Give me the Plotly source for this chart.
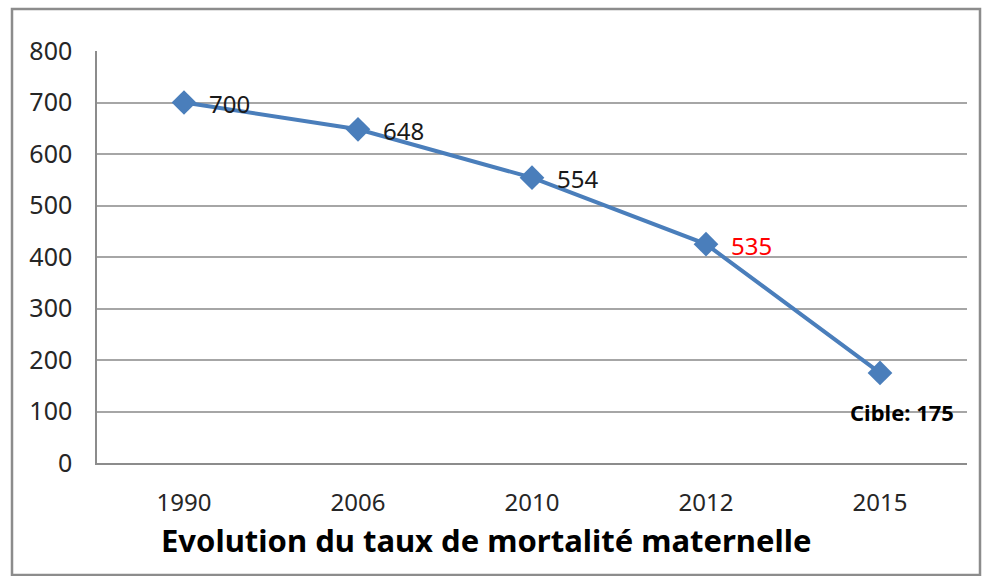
import plotly.graph_objects as go

years = ["1990", "2006", "2010", "2012", "2015"]
values = [700, 648, 554, 425, 175]
label_texts = ["700", "648", "554", "535", "Cible: 175"]
label_colors = ["#1a1a1a", "#1a1a1a", "#1a1a1a", "#ff0000", "#000000"]
y_ticks = [0, 100, 200, 300, 400, 500, 600, 700, 800]
title_text = "Evolution du taux de mortalité maternelle"

FONT = "Noto Sans"

fig = go.Figure()
fig.add_trace(go.Scatter(
    x=years, y=values, mode="lines+markers",
    line=dict(color="#4a7ebb", width=4),
    marker=dict(symbol="diamond", size=19, color="#4a7ebb"),
    showlegend=False, hoverinfo="x+y",
))

annotations = []
for i, (yr, v, t, c) in enumerate(zip(years, values, label_texts, label_colors)):
    if i == len(years) - 1:
        annotations.append(dict(x=i, y=v, text="<b>" + t + "</b>", showarrow=False,
                                xanchor="center", yanchor="middle", xshift=22, yshift=-39,
                                font=dict(family=FONT, size=22, color=c)))
    else:
        annotations.append(dict(x=i, y=v, text=t, showarrow=False,
                                xanchor="left", yanchor="middle", xshift=23, yshift=-1,
                                font=dict(family=FONT, size=24, color=c)))

annotations.append(dict(x=(486 - 97) / 870, xref="paper", xanchor="center",
                        y=(463 - 540) / 412, yref="paper",
                        yanchor="middle", text="<b>" + title_text + "</b>", showarrow=False,
                        font=dict(family=FONT, size=31, color="#000000")))

fig.update_layout(
    width=982, height=576,
    margin=dict(l=97, r=15, t=51, b=113),
    paper_bgcolor="white", plot_bgcolor="white",
    annotations=annotations,
    xaxis=dict(type="category", range=[-0.5, 4.5], showgrid=False, showline=True,
               linecolor="#8c8c8c", linewidth=1.5, ticks="",
               tickfont=dict(family=FONT, size=24, color="#262626"), ticklabelstandoff=17),
    yaxis=dict(range=[0, 800], tickvals=y_ticks, showgrid=True, gridcolor="#a6a6a6",
               gridwidth=1.5, showline=True, linecolor="#8c8c8c", linewidth=1.5,
               ticks="", zeroline=False,
               tickfont=dict(family=FONT, size=25, color="#262626"), ticklabelstandoff=18),
    shapes=[dict(type="rect", xref="paper", yref="paper",
                 x0=(12 - 97) / 870, x1=(980 - 97) / 870,
                 y0=(463 - 575) / 412, y1=(463 - 9) / 412,
                 line=dict(color="#8c8c8c", width=2.5), layer="below")],
)

fig.write_html("out.html", config={"displayModeBar": False},
               post_script="document.body.style.margin='0';document.body.style.overflow='hidden';")
